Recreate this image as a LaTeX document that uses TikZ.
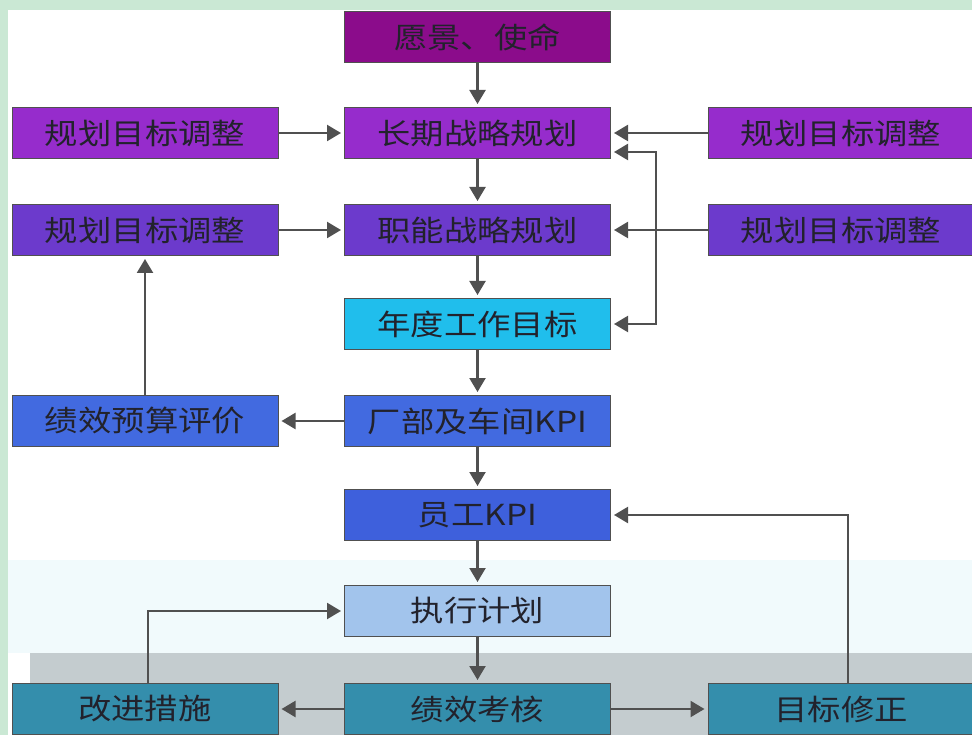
\documentclass[tikz,border=0pt]{standalone}
\usepackage{fontspec}
\newfontfamily\cjk[FakeStretch=1.15]{Noto Sans CJK SC}
\usetikzlibrary{arrows.meta,positioning}

\definecolor{bggreen}{RGB}{202,232,212}
\definecolor{bgblue}{RGB}{241,250,252}
\definecolor{bggray}{RGB}{196,204,207}
\definecolor{cvision}{RGB}{139,12,139}
\definecolor{cplan}{RGB}{150,44,204}
\definecolor{cfunc}{RGB}{108,58,204}
\definecolor{cyear}{RGB}{32,190,236}
\definecolor{ckpi}{RGB}{66,106,224}
\definecolor{cstaff}{RGB}{62,96,220}
\definecolor{cexec}{RGB}{162,196,236}
\definecolor{ccheck}{RGB}{52,142,172}
\definecolor{cline}{RGB}{80,80,80}
\definecolor{ctext}{RGB}{34,34,44}

\tikzset{
  box/.style={draw=cline, line width=1pt, minimum width=266pt, minimum height=51pt,
    inner sep=0pt, text=ctext, font=\cjk\fontsize{29}{34}\selectfont},
  tip/.tip={Triangle[length=14pt,width=16pt]},
  conn/.style={draw=cline, line width=2.2pt, -tip, shorten >=3pt}
}

\begin{document}
\begin{tikzpicture}[x=1pt,y=-1pt]
\useasboundingbox (0,0) rectangle (972,735);
% background
\fill[bggreen] (0,0) rectangle (972,735);
\fill[white] (8,10) rectangle (972,735);
\fill[bgblue] (8,560) rectangle (972,653);
\fill[bggray] (30,653) rectangle (972,735);

% centre column
\node[box, fill=cvision] (vision) at (477.5,37) {愿景、使命};
\node[box, fill=cplan] (long) at (477.5,133) {长期战略规划};
\node[box, fill=cfunc] (func) at (477.5,230) {职能战略规划};
\node[box, fill=cyear] (year) at (477.5,324) {年度工作目标};
\node[box, fill=ckpi] (dept) at (477.5,421) {厂部及车间KPI};
\node[box, fill=cstaff] (staff) at (477.5,515) {员工KPI};
\node[box, fill=cexec] (exec) at (477.5,611) {执行计划};
\node[box, fill=ccheck] (check) at (477.5,709) {绩效考核};

% left column
\node[box, fill=cplan] (adjLa) at (145,133) {规划目标调整};
\node[box, fill=cfunc] (adjLb) at (145,230) {规划目标调整};
\node[box, fill=ckpi] (eval) at (145,421) {绩效预算评价};
\node[box, fill=ccheck] (improve) at (145,709) {改进措施};

% right column
\node[box, fill=cplan] (adjRa) at (841,133) {规划目标调整};
\node[box, fill=cfunc] (adjRb) at (841,230) {规划目标调整};
\node[box, fill=ccheck] (revise) at (841,709) {目标修正};

% main flow
\draw[conn] (vision)--(long);
\draw[conn] (long)--(func);
\draw[conn] (func)--(year);
\draw[conn] (year)--(dept);
\draw[conn] (dept)--(staff);
\draw[conn] (staff)--(exec);
\draw[conn] (exec)--(check);

% side inputs
\draw[conn] (adjLa)--(long);
\draw[conn] (adjLb)--(func);
\draw[conn] (adjRa)--(long);
\draw[conn] (adjRb)--(func);
\draw[conn] (dept)--(eval);
\draw[conn] (eval)--(adjLb);
\draw[conn] (check)--(improve);
\draw[conn] (check)--(revise);

% feedback loops
\draw[conn, tip-tip, shorten <=3pt]
  (year.east) -- ++(45,0) |- ([yshift=-19pt]long.east);
\draw[conn] ([xshift=3pt]improve.north) |- (exec.west);
\draw[conn] ([xshift=7pt]revise.north) |- (staff.east);
\end{tikzpicture}
\end{document}
